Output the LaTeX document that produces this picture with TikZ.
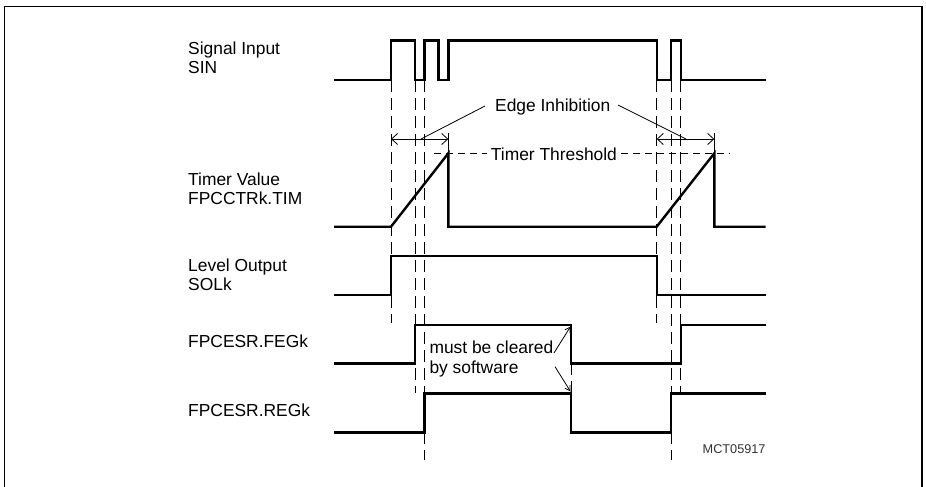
\documentclass[tikz,border=0pt]{standalone}
\usepackage{fontspec}
\setmainfont{Liberation Sans}
\usetikzlibrary{arrows.meta}
\begin{document}
\begin{tikzpicture}[x=1pt,y=-1pt,
  sig/.style={line width=2.4pt, line join=miter, line cap=butt},
  guide/.style={line width=0.8pt, dash pattern=on 12pt off 6pt},
  thrline/.style={line width=0.8pt, dash pattern=on 7pt off 5pt},
  lbl/.style={anchor=base west, inner sep=0pt, font=\fontsize{17.4}{20}\selectfont},
  thinline/.style={line width=0.8pt},
  dim/.style={thinline, {Straight Barb[length=6pt,width=11pt]}-{Straight Barb[length=6pt,width=11pt]}},
  clr/.style={thinline, -{Straight Barb[length=5pt,width=6pt]}}]
\useasboundingbox (0,0) rectangle (926,487);
% frame
\draw[line width=1.3pt] (4.3,487) -- (4.3,6.3) -- (922,6.3) -- (922,487);
% labels
\node[lbl] (l1a) at (188,55) {Signal Input};
\node[lbl] (l1b) at (188,74) {SIN};
\node[lbl] (l2a) at (188,185) {Timer Value};
\node[lbl] (l2b) at (188,204.3) {FPCCTRk.TIM};
\node[lbl] (l3a) at (188,271.7) {Level Output};
\node[lbl] (l3b) at (188,290) {SOLk};
\node[lbl] (l4) at (188,347.7) {FPCESR.FEGk};
\node[lbl] (l5) at (188,416.7) {FPCESR.REGk};
% guides
\draw[guide] (391,80) -- (391,323.3);
\draw[guide] (415,80) -- (415,393);
\draw[guide] (424.3,80) -- (424.3,393);
\draw[guide] (424.3,432) -- (424.3,460);
\draw[guide] (656.7,80) -- (656.7,323.3);
\draw[guide] (671,80) -- (671,393);
\draw[guide] (671,432) -- (671,460);
\draw[guide] (680.7,80) -- (680.7,393);
\draw[guide] (571,363) -- (571,393);
% threshold
\node[lbl, inner xsep=4pt] (thr) at (486.7,160) {Timer Threshold};
\draw[thrline] (434.3,153.3) -- (thr.west |- 0,153.3);
\draw[thrline] (thr.east |- 0,153.3) -- (730,153.3);
% edge inhibition
\node[lbl] (ei) at (495,111.7) {Edge Inhibition};
\coordinate (eiL) at (485,106);
\coordinate (eiR) at (618,105);
\coordinate (pL) at (421,139);
\coordinate (pR) at (686,139);
\draw[thinline] (eiL) -- (pL);
\draw[thinline] (eiR) -- (pR);
\coordinate (a1) at (391,139);
\coordinate (a2) at (448.3,139);
\coordinate (a3) at (656.7,139);
\coordinate (a4) at (714.3,139);
\draw[dim] (a1) -- (a2);
\draw[dim] (a3) -- (a4);
\draw[thinline] (448.3,133) -- (448.3,153.3);
\draw[thinline] (714.3,133) -- (714.3,153.3);
% signals
\draw[sig] (334,79.7) -- (391,79.7) -- (391,40.7) -- (415,40.7) -- (415,79.7) -- (424.3,79.7) -- (424.3,40.7) -- (438.3,40.7) -- (438.3,79.7) -- (448.3,79.7) -- (448.3,40.7) -- (656.7,40.7) -- (656.7,79.7) -- (671,79.7) -- (671,40.7) -- (680.7,40.7) -- (680.7,79.7) -- (765.7,79.7);
\draw[sig] (334,226.7) -- (391,226.7) -- (448.3,153.3) -- (448.3,226.7) -- (656.7,226.7) -- (714.3,153.3) -- (714.3,226.7) -- (765.7,226.7);
\draw[sig] (334,295) -- (391,295) -- (391,255.7) -- (656.7,255.7) -- (656.7,295) -- (765.7,295);
\draw[sig] (334,363.3) -- (415,363.3) -- (415,325) -- (571,325) -- (571,363.3) -- (680.7,363.3) -- (680.7,325) -- (765.7,325);
\draw[sig] (334,432.3) -- (424.3,432.3) -- (424.3,393.3) -- (571,393.3) -- (571,432.3) -- (671,432.3) -- (671,393.3) -- (765.7,393.3);
% must be cleared
\node[lbl] (mc1) at (429.3,353.3) {must be cleared};
\node[lbl] (mc2) at (429.3,373.3) {by software};
\coordinate (c1) at (554,353);
\coordinate (c1t) at (570.5,326.5);
\coordinate (c2) at (555,366.7);
\coordinate (c2t) at (570.5,391.5);
\draw[clr] (c1) -- (c1t);
\draw[clr] (c2) -- (c2t);
% id
\node[anchor=base east, inner sep=0pt, font=\fontsize{12.7}{14}\selectfont, text=black!80] (id) at (765.7,453.3) {MCT05917};
\end{tikzpicture}
\end{document}
